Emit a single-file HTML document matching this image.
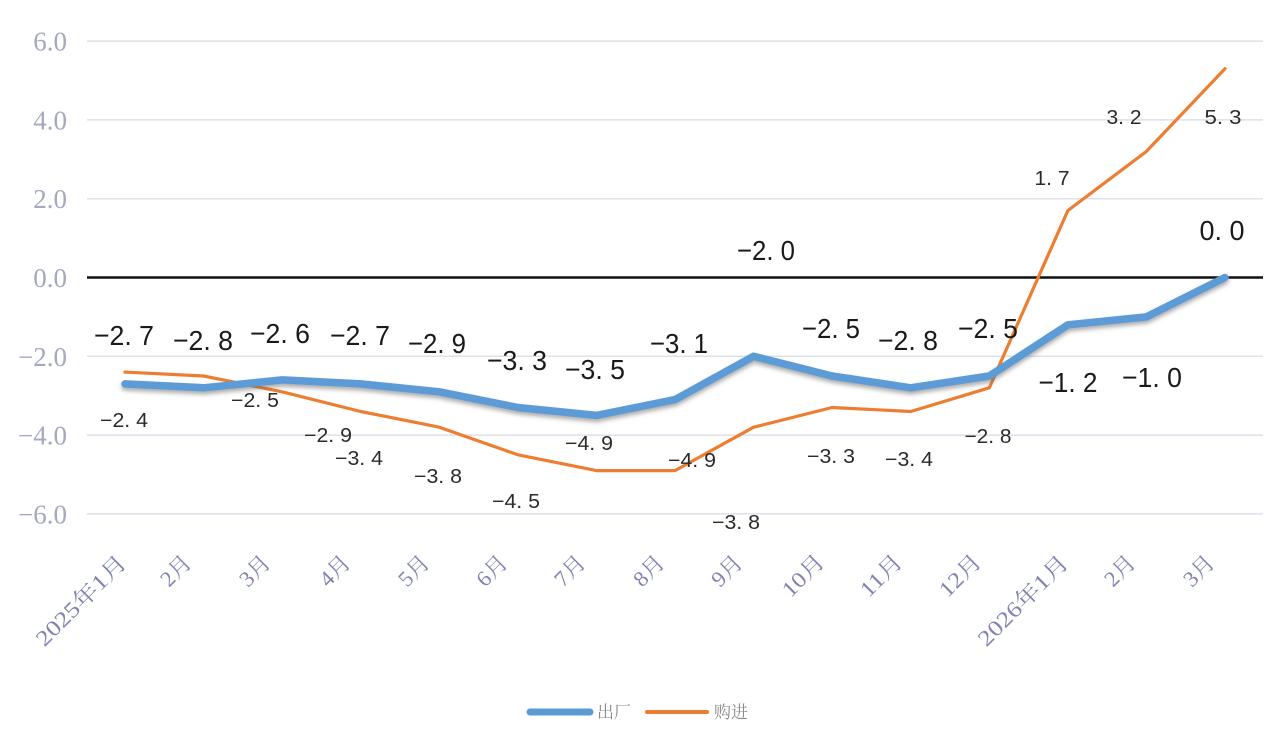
<!DOCTYPE html>
<html>
<head>
<meta charset="utf-8">
<style>
  html, body { margin: 0; padding: 0; background: #ffffff; }
  body { width: 1280px; height: 736px; overflow: hidden; }
  svg { display: block; }
  .ylab { font-family: "Liberation Serif", "Noto Serif CJK SC", serif; font-size: 27px; fill: #a4a8c0; }
  .xlab { font-family: "Liberation Serif", "Noto Serif CJK SC", serif; font-size: 22px; fill: #8083b3; }
  .bl { font-family: "Liberation Sans", "Noto Sans CJK SC", sans-serif; font-size: 28px; fill: #1a1a1a; }
  .ol { font-family: "Liberation Sans", "Noto Sans CJK SC", sans-serif; font-size: 20px; fill: #2a2a2a; }
  .leg { font-family: "Liberation Serif", "Noto Serif CJK SC", serif; font-size: 17px; fill: #8a8a8a; }
</style>
</head>
<body>
<svg width="1280" height="736" viewBox="0 0 1280 736" xmlns="http://www.w3.org/2000/svg">
  <defs>
    <filter id="sh" x="-5%" y="-20%" width="110%" height="160%">
      <feDropShadow dx="0" dy="3" stdDeviation="2.2" flood-color="#6b6b6b" flood-opacity="0.55"/>
    </filter>
  </defs>

  <!-- gridlines -->
  <g stroke="#dde1ea" stroke-width="1.5">
    <line x1="87" y1="41.1" x2="1263" y2="41.1"/>
    <line x1="87" y1="119.9" x2="1263" y2="119.9"/>
    <line x1="87" y1="198.7" x2="1263" y2="198.7"/>
    <line x1="87" y1="356.3" x2="1263" y2="356.3"/>
    <line x1="87" y1="435.1" x2="1263" y2="435.1"/>
    <line x1="87" y1="513.9" x2="1263" y2="513.9"/>
  </g>
  <line x1="87" y1="277.5" x2="1263" y2="277.5" stroke="#111" stroke-width="2.6"/>

  <!-- y labels -->
  <g class="ylab" text-anchor="end">
    <text x="67" y="50.6">6.0</text>
    <text x="67" y="129.4">4.0</text>
    <text x="67" y="208.2">2.0</text>
    <text x="67" y="287">0.0</text>
    <text x="67" y="365.8">−2.0</text>
    <text x="67" y="444.6">−4.0</text>
    <text x="67" y="523.4">−6.0</text>
  </g>

  <!-- x labels -->
  <g class="xlab" text-anchor="end">
    <text x="128" y="564" transform="rotate(-45 128 564)" textLength="118" lengthAdjust="spacingAndGlyphs">2025年1月</text>
    <text x="193" y="564" transform="rotate(-45 193 564)" textLength="34" lengthAdjust="spacingAndGlyphs">2月</text>
    <text x="272" y="564" transform="rotate(-45 272 564)" textLength="34" lengthAdjust="spacingAndGlyphs">3月</text>
    <text x="352" y="564" transform="rotate(-45 352 564)" textLength="34" lengthAdjust="spacingAndGlyphs">4月</text>
    <text x="431" y="564" transform="rotate(-45 431 564)" textLength="34" lengthAdjust="spacingAndGlyphs">5月</text>
    <text x="509" y="564" transform="rotate(-45 509 564)" textLength="34" lengthAdjust="spacingAndGlyphs">6月</text>
    <text x="587" y="564" transform="rotate(-45 587 564)" textLength="34" lengthAdjust="spacingAndGlyphs">7月</text>
    <text x="666" y="564" transform="rotate(-45 666 564)" textLength="34" lengthAdjust="spacingAndGlyphs">8月</text>
    <text x="744" y="564" transform="rotate(-45 744 564)" textLength="34" lengthAdjust="spacingAndGlyphs">9月</text>
    <text x="826" y="563" transform="rotate(-45 826 563)" textLength="50" lengthAdjust="spacingAndGlyphs">10月</text>
    <text x="904" y="563" transform="rotate(-45 904 563)" textLength="50" lengthAdjust="spacingAndGlyphs">11月</text>
    <text x="983" y="563" transform="rotate(-45 983 563)" textLength="50" lengthAdjust="spacingAndGlyphs">12月</text>
    <text x="1070" y="564" transform="rotate(-45 1070 564)" textLength="118" lengthAdjust="spacingAndGlyphs">2026年1月</text>
    <text x="1137" y="564" transform="rotate(-45 1137 564)" textLength="34" lengthAdjust="spacingAndGlyphs">2月</text>
    <text x="1216" y="564" transform="rotate(-45 1216 564)" textLength="34" lengthAdjust="spacingAndGlyphs">3月</text>
  </g>

  <!-- orange series -->
  <polyline fill="none" stroke="#ed7d31" stroke-width="3.2" stroke-linejoin="round" stroke-linecap="round"
    points="125,372.1 203.6,376 282.1,391.8 360.7,411.5 439.3,427.2 517.9,454.8 596.4,470.6 675,470.6 753.6,427.2 832.1,407.5 910.7,411.5 989.3,387.8 1067.9,210.5 1146.4,151.4 1225,68.7"/>

  <!-- blue series -->
  <polyline fill="none" stroke="#5b9bd5" stroke-width="7.5" stroke-linejoin="round" stroke-linecap="round" filter="url(#sh)"
    points="125,383.9 203.6,387.8 282.1,379.9 360.7,383.9 439.3,391.8 517.9,407.5 596.4,415.4 675,399.6 753.6,356.3 832.1,376 910.7,387.8 989.3,376 1067.9,324.8 1146.4,316.9 1225,277.5"/>

  <!-- blue labels -->
  <g class="bl" text-anchor="middle">
    <text x="124" y="345" textLength="60" lengthAdjust="spacingAndGlyphs">−2. 7</text>
    <text x="203" y="350" textLength="60" lengthAdjust="spacingAndGlyphs">−2. 8</text>
    <text x="280" y="343" textLength="60" lengthAdjust="spacingAndGlyphs">−2. 6</text>
    <text x="360" y="345" textLength="60" lengthAdjust="spacingAndGlyphs">−2. 7</text>
    <text x="437" y="353" textLength="58" lengthAdjust="spacingAndGlyphs">−2. 9</text>
    <text x="517" y="370" textLength="60" lengthAdjust="spacingAndGlyphs">−3. 3</text>
    <text x="595" y="379" textLength="60" lengthAdjust="spacingAndGlyphs">−3. 5</text>
    <text x="679" y="353" textLength="58" lengthAdjust="spacingAndGlyphs">−3. 1</text>
    <text x="766" y="260" textLength="58" lengthAdjust="spacingAndGlyphs">−2. 0</text>
    <text x="831" y="338" textLength="58" lengthAdjust="spacingAndGlyphs">−2. 5</text>
    <text x="908" y="350" textLength="60" lengthAdjust="spacingAndGlyphs">−2. 8</text>
    <text x="988" y="338" textLength="60" lengthAdjust="spacingAndGlyphs">−2. 5</text>
    <text x="1068" y="392" textLength="59" lengthAdjust="spacingAndGlyphs">−1. 2</text>
    <text x="1152" y="387" textLength="60" lengthAdjust="spacingAndGlyphs">−1. 0</text>
    <text x="1222" y="240" textLength="45" lengthAdjust="spacingAndGlyphs">0. 0</text>
  </g>

  <!-- orange labels -->
  <g class="ol" text-anchor="middle">
    <text x="124" y="427" textLength="48" lengthAdjust="spacingAndGlyphs">−2. 4</text>
    <text x="255" y="407" textLength="48" lengthAdjust="spacingAndGlyphs">−2. 5</text>
    <text x="328" y="442" textLength="48" lengthAdjust="spacingAndGlyphs">−2. 9</text>
    <text x="359" y="465" textLength="48" lengthAdjust="spacingAndGlyphs">−3. 4</text>
    <text x="438" y="483" textLength="48" lengthAdjust="spacingAndGlyphs">−3. 8</text>
    <text x="516" y="508" textLength="48" lengthAdjust="spacingAndGlyphs">−4. 5</text>
    <text x="589" y="450" textLength="48" lengthAdjust="spacingAndGlyphs">−4. 9</text>
    <text x="692" y="467" textLength="48" lengthAdjust="spacingAndGlyphs">−4. 9</text>
    <text x="736" y="529" textLength="48" lengthAdjust="spacingAndGlyphs">−3. 8</text>
    <text x="831" y="463" textLength="48" lengthAdjust="spacingAndGlyphs">−3. 3</text>
    <text x="909" y="466" textLength="48" lengthAdjust="spacingAndGlyphs">−3. 4</text>
    <text x="988" y="443" textLength="47" lengthAdjust="spacingAndGlyphs">−2. 8</text>
    <text x="1052" y="185" textLength="35" lengthAdjust="spacingAndGlyphs">1. 7</text>
    <text x="1124" y="124" textLength="35" lengthAdjust="spacingAndGlyphs">3. 2</text>
    <text x="1223" y="124" textLength="37" lengthAdjust="spacingAndGlyphs">5. 3</text>
  </g>

  <!-- legend -->
  <line x1="530" y1="712" x2="590" y2="712" stroke="#5b9bd5" stroke-width="7" stroke-linecap="round"/>
  <text class="leg" x="597" y="718">出厂</text>
  <line x1="647" y1="712" x2="707" y2="712" stroke="#ed7d31" stroke-width="4" stroke-linecap="round"/>
  <text class="leg" x="714" y="718">购进</text>
</svg>
</body>
</html>
